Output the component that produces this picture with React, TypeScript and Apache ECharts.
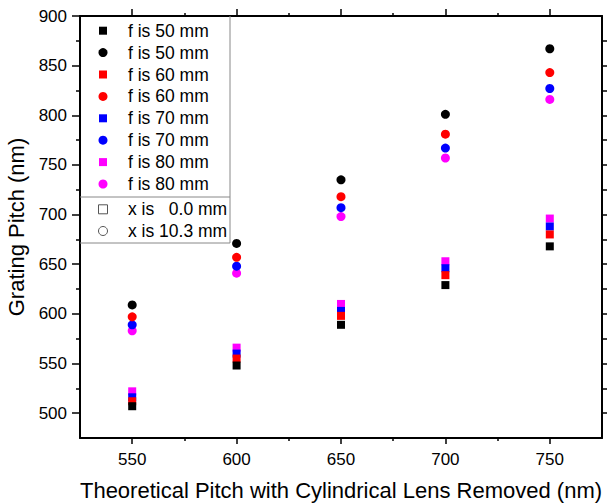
import React, { useEffect, useRef } from "react";
import * as echarts from "echarts";

const theoreticalPitch = [550, 600, 650, 700, 750];
const f50Square = [507, 548, 589, 629, 668];
const f50Circle = [609, 671, 735, 801, 867];
const f60Square = [512, 555, 598, 639, 680];
const f60Circle = [597, 657, 718, 781, 843];
const f70Square = [516, 560, 603, 646, 688];
const f70Circle = [589, 648, 707, 767, 827];
const f80Square = [522, 566, 610, 653, 696];
const f80Circle = [583, 641, 698, 757, 816];

const xTickLabels = [550, 600, 650, 700, 750];
const xMinorTicks = [525, 575, 625, 675, 725, 775];
const yTickLabels = [500, 550, 600, 650, 700, 750, 800, 850, 900];
const yMinorTicks = [525, 575, 625, 675, 725, 775, 825, 875];
const yRightTicks = [500, 525, 550, 575, 600, 625, 650, 675, 700, 725, 750, 775, 800, 825, 850, 875];

const legendLabels = [
  "f is 50 mm", "f is 50 mm", "f is 60 mm", "f is 60 mm",
  "f is 70 mm", "f is 70 mm", "f is 80 mm", "f is 80 mm",
];
const legendShapes = ["rect", "circle", "rect", "circle", "rect", "circle", "rect", "circle"];
const legendColors = ["#000000", "#000000", "#ff0000", "#ff0000", "#0000ff", "#0000ff", "#ff00ff", "#ff00ff"];
const xLegendLabels = ["x is   0.0 mm", "x is 10.3 mm"];
const xLegendShapes = ["rect", "circle"];

const FONT = "Liberation Sans, Arial, sans-serif";

export default function App() {
  const ref = useRef<HTMLDivElement>(null);
  useEffect(() => {
    document.body.style.margin = "0";
    const chart = echarts.init(ref.current!, null, { renderer: "svg" });

    const mk = (name: string, vals: number[], symbol: string, color: string) => ({
      type: "scatter",
      name,
      xAxisIndex: 0,
      yAxisIndex: 0,
      symbol,
      symbolSize: symbol === "rect" ? 8 : 9,
      itemStyle: { color, opacity: 1 },
      data: theoreticalPitch.map((x, i) => [x, vals[i]]),
    });

    const series = [
      mk("f is 80 mm", f80Square, "rect", "#ff00ff"),
      mk("f is 80 mm", f80Circle, "circle", "#ff00ff"),
      mk("f is 70 mm", f70Square, "rect", "#0000ff"),
      mk("f is 70 mm", f70Circle, "circle", "#0000ff"),
      mk("f is 60 mm", f60Square, "rect", "#ff0000"),
      mk("f is 60 mm", f60Circle, "circle", "#ff0000"),
      mk("f is 50 mm", f50Square, "rect", "#000000"),
      mk("f is 50 mm", f50Circle, "circle", "#000000"),
    ];

    const axisLine = { show: true, onZero: false, lineStyle: { color: "#000", width: 2 } };
    const tickStyle = { color: "#000", width: 1.5 };
    const gridRect = { left: 80, right: 7, top: 16, bottom: 65, containLabel: false, outerBoundsMode: "none" };

    const legendX = 103;
    const textX = 128;
    const rowY0 = 30.7;
    const rowGap = 21.9;
    const graphics: any[] = [
      { type: "rect", shape: { x: 81, y: 17, width: 149, height: 226 }, style: { fill: "#fff" }, z: 50 },
      { type: "line", shape: { x1: 230, y1: 16, x2: 230, y2: 243 }, style: { stroke: "#888", lineWidth: 1 }, z: 51 },
      { type: "line", shape: { x1: 80, y1: 243, x2: 230, y2: 243 }, style: { stroke: "#888", lineWidth: 1 }, z: 51 },
      { type: "line", shape: { x1: 80, y1: 197, x2: 230, y2: 197 }, style: { stroke: "#888", lineWidth: 1 }, z: 51 },
    ];
    legendLabels.forEach((label, i) => {
      const cy = rowY0 + i * rowGap;
      const color = legendColors[i];
      if (legendShapes[i] === "rect") {
        graphics.push({ type: "rect", shape: { x: legendX - 4, y: cy - 4, width: 8, height: 8 }, style: { fill: color }, z: 52 });
      } else {
        graphics.push({ type: "circle", shape: { cx: legendX, cy, r: 4.5 }, style: { fill: color }, z: 52 });
      }
      graphics.push({
        type: "text", x: textX, y: cy, z: 52,
        style: { text: label, fill: "#000", fontSize: 17.5, fontFamily: FONT, verticalAlign: "middle", align: "left" },
      });
    });
    xLegendLabels.forEach((label, i) => {
      const cy = 209.3 + i * 21.7;
      if (xLegendShapes[i] === "rect") {
        graphics.push({ type: "rect", shape: { x: legendX - 4.5, y: cy - 4.5, width: 9, height: 9 }, style: { fill: "none", stroke: "#555", lineWidth: 1 }, z: 52 });
      } else {
        graphics.push({ type: "circle", shape: { cx: legendX, cy, r: 4.5 }, style: { fill: "none", stroke: "#555", lineWidth: 1 }, z: 52 });
      }
      graphics.push({
        type: "text", x: textX, y: cy, z: 52,
        style: { text: label, fill: "#000", fontSize: 17.5, fontFamily: FONT, verticalAlign: "middle", align: "left", whiteSpace: "pre" },
      });
    });

    chart.setOption({
      animation: false,
      backgroundColor: "#fff",
      textStyle: { fontFamily: FONT },
      grid: [{ ...gridRect }, { ...gridRect }],
      xAxis: [
        {
          gridIndex: 0, type: "value", position: "bottom", min: 525, max: 775,
          name: "Theoretical Pitch with Cylindrical Lens Removed (nm)",
          nameLocation: "middle", nameGap: 41,
          nameTextStyle: { fontSize: 22, color: "#000", fontFamily: FONT },
          axisLine,
          axisTick: { show: true, length: 6, lineStyle: tickStyle, customValues: xTickLabels },
          axisLabel: { show: true, customValues: xTickLabels, fontSize: 17, color: "#000", margin: 13, fontFamily: FONT },
          splitLine: { show: false },
        },
        {
          gridIndex: 0, type: "value", position: "top", min: 525, max: 775,
          axisLine,
          axisTick: { show: true, length: 7, lineStyle: tickStyle, customValues: xTickLabels },
          axisLabel: { show: false },
          splitLine: { show: false },
        },
        {
          gridIndex: 1, type: "value", position: "bottom", min: 525, max: 775,
          axisLine: { show: false },
          axisTick: { show: true, length: 3, lineStyle: tickStyle, customValues: xMinorTicks.slice(1, -1) },
          axisLabel: { show: false },
          splitLine: { show: false },
        },
        {
          gridIndex: 1, type: "value", position: "top", min: 525, max: 775,
          axisLine: { show: false },
          axisTick: { show: true, length: 3, lineStyle: tickStyle, customValues: xMinorTicks.slice(1, -1) },
          axisLabel: { show: false },
          splitLine: { show: false },
        },
      ],
      yAxis: [
        {
          gridIndex: 0, type: "value", position: "left", min: 475, max: 900,
          name: "Grating Pitch (nm)",
          nameLocation: "middle", nameGap: 44,
          nameTextStyle: { fontSize: 22, color: "#000", fontFamily: FONT },
          axisLine,
          axisTick: { show: true, length: 8, lineStyle: tickStyle, customValues: yTickLabels },
          axisLabel: { show: true, customValues: yTickLabels, fontSize: 17, color: "#000", margin: 13, fontFamily: FONT },
          splitLine: { show: false },
        },
        {
          gridIndex: 0, type: "value", position: "right", min: 475, max: 900,
          axisLine,
          axisTick: { show: true, length: 5, lineStyle: tickStyle, customValues: yRightTicks },
          axisLabel: { show: false },
          splitLine: { show: false },
        },
        {
          gridIndex: 1, type: "value", position: "left", min: 475, max: 900,
          axisLine: { show: false },
          axisTick: { show: true, length: 4, lineStyle: tickStyle, customValues: yMinorTicks },
          axisLabel: { show: false },
          splitLine: { show: false },
        },
        {
          gridIndex: 1, type: "value", position: "right", min: 475, max: 900,
          axisLine: { show: false },
          axisTick: { show: false },
          axisLabel: { show: false },
          splitLine: { show: false },
        },
      ],
      graphic: graphics,
      series,
    });
    return () => chart.dispose();
  }, []);
  return <div ref={ref} style={{ width: 609, height: 503 }} />;
}
